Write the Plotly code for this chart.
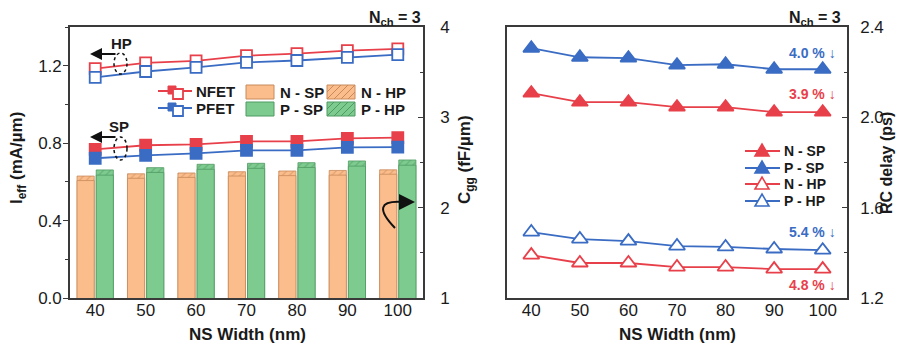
import plotly.graph_objects as go

# ---------------- data ----------------
ns_width = [40, 50, 60, 70, 80, 90, 100]

# Ieff (mA/um), left panel, left axis
ieff_n_hp = [1.185, 1.215, 1.225, 1.252, 1.262, 1.278, 1.287]
ieff_p_hp = [1.140, 1.170, 1.191, 1.217, 1.227, 1.243, 1.257]
ieff_n_sp = [0.768, 0.789, 0.794, 0.809, 0.809, 0.825, 0.829]
ieff_p_sp = [0.722, 0.737, 0.747, 0.763, 0.763, 0.778, 0.779]

# Cgg (fF/um), left panel, right axis
cgg_n_sp = [2.30, 2.325, 2.335, 2.35, 2.355, 2.36, 2.37]
cgg_n_hp = [2.35, 2.375, 2.384, 2.398, 2.406, 2.412, 2.419]
cgg_p_sp = [2.36, 2.39, 2.425, 2.435, 2.445, 2.46, 2.47]
cgg_p_hp = [2.418, 2.443, 2.48, 2.491, 2.498, 2.517, 2.528]

# RC delay (ps), right panel
rc_p_sp = [2.306, 2.266, 2.262, 2.231, 2.235, 2.213, 2.213]
rc_n_sp = [2.107, 2.067, 2.067, 2.045, 2.045, 2.023, 2.023]
rc_p_hp = [1.492, 1.461, 1.452, 1.430, 1.426, 1.417, 1.412]
rc_n_hp = [1.390, 1.355, 1.355, 1.337, 1.337, 1.328, 1.328]

ieff_ticks = [0.0, 0.4, 0.8, 1.2]
cgg_ticks = [1, 2, 3, 4]
rc_ticks = [1.2, 1.6, 2.0, 2.4]
pct_labels = ["4.0 % ↓", "3.9 % ↓", "5.4 % ↓", "4.8 % ↓"]
rc_legend = ["N - SP", "P - SP", "N - HP", "P - HP"]

# ---------------- style ----------------
OFF = 8                      # page body margin
W, H = 906 - OFF, 348 - OFF
FONT = "Liberation Sans, Arial, sans-serif"
RED = "#e8404a"
BLUE = "#3a6cc4"
ORANGE = "#fbbd8c"
ORANGE_D = "#c98a5a"
GREEN = "#7ecb90"
GREEN_D = "#4f9a62"
AX = "#3a3a3a"
TXT = "#1a1a1a"


def PX(x):
    return (x - OFF) / W


def PY(y):
    return 1 - (y - OFF) / H


fig = go.Figure()

# ---- bars (Cgg) on primary y (drawn first, right side axis) ----
BW = 3.4
fig.add_trace(go.Bar(x=ns_width, y=cgg_n_hp, width=BW, offset=-3.6, xaxis="x", yaxis="y",
                     marker=dict(color=ORANGE, line=dict(color=ORANGE_D, width=0.8),
                                 pattern=dict(shape="/", fgcolor=ORANGE_D, bgcolor=ORANGE,
                                              size=5, solidity=0.25, fillmode="overlay")),
                     showlegend=False))
fig.add_trace(go.Bar(x=ns_width, y=cgg_n_sp, width=BW, offset=-3.6, xaxis="x", yaxis="y",
                     marker=dict(color=ORANGE, line=dict(color=ORANGE_D, width=0.8)),
                     showlegend=False))
fig.add_trace(go.Bar(x=ns_width, y=cgg_p_hp, width=BW, offset=0.2, xaxis="x", yaxis="y",
                     marker=dict(color=GREEN, line=dict(color=GREEN_D, width=0.8),
                                 pattern=dict(shape="/", fgcolor=GREEN_D, bgcolor=GREEN,
                                              size=5, solidity=0.25, fillmode="overlay")),
                     showlegend=False))
fig.add_trace(go.Bar(x=ns_width, y=cgg_p_sp, width=BW, offset=0.2, xaxis="x", yaxis="y",
                     marker=dict(color=GREEN, line=dict(color=GREEN_D, width=0.8)),
                     showlegend=False))


def line_trace(y, color, filled, xa, ya, size=11, symbol="square"):
    return go.Scatter(
        x=ns_width, y=y, mode="lines+markers", xaxis=xa, yaxis=ya, showlegend=False,
        line=dict(color=color, width=1.8),
        marker=dict(symbol=symbol, size=size,
                    color=color if filled else "white",
                    line=dict(color=color, width=1.8)),
    )

# ---- Ieff lines on y2 (left side) ----
fig.add_trace(line_trace(ieff_n_hp, RED, False, "x", "y2"))
fig.add_trace(line_trace(ieff_p_hp, BLUE, False, "x", "y2"))
fig.add_trace(line_trace(ieff_n_sp, RED, True, "x", "y2"))
fig.add_trace(line_trace(ieff_p_sp, BLUE, True, "x", "y2"))

# ---- RC delay (right panel) ----
fig.add_trace(line_trace(rc_n_sp, RED, True, "x2", "y3", size=14, symbol="triangle-up"))
fig.add_trace(line_trace(rc_p_sp, BLUE, True, "x2", "y3", size=14, symbol="triangle-up"))
fig.add_trace(line_trace(rc_n_hp, RED, False, "x2", "y3", size=14, symbol="triangle-up"))
fig.add_trace(line_trace(rc_p_hp, BLUE, False, "x2", "y3", size=14, symbol="triangle-up"))

tickfont = dict(family=FONT, size=17, color=TXT)
common_x = dict(range=[35, 105], tickvals=ns_width, showline=True, linecolor=AX, linewidth=1.6,
                mirror=True, ticks="", showgrid=False, zeroline=False, tickfont=tickfont,
                automargin=False, ticklabelstandoff=-4)

fig.update_layout(
    width=W, height=H,
    margin=dict(l=0, r=0, t=0, b=0),
    paper_bgcolor="white", plot_bgcolor="white",
    barmode="overlay", showlegend=False,
    font=dict(family=FONT, color=TXT),
    xaxis=dict(domain=[PX(70), PX(423)], anchor="y", **common_x),
    yaxis=dict(domain=[PY(298), PY(27)], anchor="x", side="right", range=[1, 4],
               tickvals=cgg_ticks, ticks="inside", ticklen=5, tickcolor=AX,
               minor=dict(dtick=0.5, ticks="inside", ticklen=3, tickcolor=AX),
               showline=True, linecolor=AX, linewidth=1.6, showgrid=False, zeroline=False,
               tickfont=tickfont, automargin=False, ticklabelstandoff=12),
    yaxis2=dict(overlaying="y", anchor="x", side="left", range=[0, 1.4],
                tickvals=ieff_ticks, tickformat=".1f", ticks="outside", ticklen=5, tickcolor=AX,
                minor=dict(dtick=0.2, ticks="outside", ticklen=3, tickcolor=AX),
                showline=True, linecolor=AX, linewidth=1.6, showgrid=False, zeroline=False,
                tickfont=tickfont, automargin=False, ticklabelstandoff=-2),
    xaxis2=dict(domain=[PX(507), PX(847)], anchor="y3", **common_x),
    yaxis3=dict(domain=[PY(298), PY(27)], anchor="x2", side="right", range=[1.2, 2.4],
                tickvals=rc_ticks, tickformat=".1f", ticks="inside", ticklen=5, tickcolor=AX,
                minor=dict(dtick=0.2, ticks="inside", ticklen=3, tickcolor=AX),
                showline=True, linecolor=AX, linewidth=1.6, mirror=True, showgrid=False,
                zeroline=False, tickfont=tickfont, automargin=False, ticklabelstandoff=8),
)

ann = []
shapes = []


def text(x, y, s, size=17, color=TXT, angle=0, xanchor="center", bold=True):
    ann.append(dict(x=PX(x), y=PY(y), xref="paper", yref="paper", text=f"<b>{s}</b>" if bold else s,
                    showarrow=False, textangle=angle, xanchor=xanchor, yanchor="middle",
                    font=dict(family=FONT, size=size, color=color)))


def pline(x0, y0, x1, y1, color, width=1.8, dash=None):
    shapes.append(dict(type="line", xref="paper", yref="paper", x0=PX(x0), y0=PY(y0),
                       x1=PX(x1), y1=PY(y1), line=dict(color=color, width=width, dash=dash)))


# axis titles
text(247, 334, "NS Width (nm)")
text(677, 334, "NS Width (nm)")
text(18, 158, "I<sub>eff</sub> (mA/µm)", angle=-90)
text(466, 160, "C<sub>gg</sub> (fF/µm)", angle=-90)
text(887, 163, "RC delay (ps)", size=16, angle=-90)
text(395, 18, "N<sub>ch</sub> = 3", size=16)
text(815, 19, "N<sub>ch</sub> = 3", size=16)

# percentage labels
text(838, 53, pct_labels[0], size=14, color=BLUE, xanchor="right")
text(838, 94, pct_labels[1], size=14, color=RED, xanchor="right")
text(838, 232, pct_labels[2], size=14, color=BLUE, xanchor="right")
text(838, 285, pct_labels[3], size=14, color=RED, xanchor="right")

# HP / SP labels with arrows and dashed ellipses
text(121, 44, "HP", size=15)
text(119, 127, "SP", size=15)
for yy in (54, 137):
    ann.append(dict(x=PX(90), y=PY(yy), xref="paper", yref="paper", ax=27, ay=0, text="",
                    showarrow=True, arrowhead=2, arrowsize=1.2, arrowwidth=2, arrowcolor="#111"))
shapes.append(dict(type="circle", xref="paper", yref="paper", x0=PX(114), x1=PX(127), y0=PY(74), y1=PY(53),
                   line=dict(color="#111", width=1.5, dash="dot")))
shapes.append(dict(type="circle", xref="paper", yref="paper", x0=PX(114), x1=PX(127), y0=PY(160), y1=PY(137),
                   line=dict(color="#111", width=1.5, dash="dot")))

# curved arrow towards right axis
p0 = (PX(395), PY(228)); c = (PX(368), PY(200)); p1 = (PX(402), PY(202))
shapes.append(dict(type="path", xref="paper", yref="paper",
                   path=f"M {p0[0]},{p0[1]} Q {c[0]},{c[1]} {p1[0]},{p1[1]}",
                   line=dict(color="#111", width=2)))
ann.append(dict(x=PX(415), y=PY(202), xref="paper", yref="paper", ax=-14, ay=0, text="",
                showarrow=True, arrowhead=2, arrowsize=1.6, arrowwidth=2, arrowcolor="#111"))


# ---- left panel legend (drawn) ----
def line_legend(y, color, label):
    pline(158, y, 192, y, color)
    shapes.append(dict(type="rect", xref="paper", yref="paper", x0=PX(168), x1=PX(176), y0=PY(y + 3), y1=PY(y - 5),
                       fillcolor=color, line=dict(color=color, width=1)))
    shapes.append(dict(type="rect", xref="paper", yref="paper", x0=PX(173), x1=PX(183), y0=PY(y + 8), y1=PY(y - 2),
                       fillcolor="white", line=dict(color=color, width=1.8)))
    text(194, y, label, size=15, xanchor="left")


line_legend(91, RED, "NFET")
line_legend(108, BLUE, "PFET")


def box_legend(x0, y0, x1, y1, fill, edge, hatch):
    shapes.append(dict(type="rect", xref="paper", yref="paper", x0=PX(x0), x1=PX(x1), y0=PY(y1), y1=PY(y0),
                       fillcolor=fill, line=dict(color=edge, width=1)))
    if hatch:
        step = 7
        cval = x0 + y0 + step
        while cval < x1 + y1:
            pts = []
            for yy in (y0, y1):
                xx = cval - yy
                if x0 <= xx <= x1:
                    pts.append((xx, yy))
            for xx in (x0, x1):
                yy = cval - xx
                if y0 <= yy <= y1:
                    pts.append((xx, yy))
            pts = sorted(set(pts))
            if len(pts) >= 2:
                (ax_, ay_), (bx_, by_) = pts[0], pts[-1]
                pline(ax_, ay_, bx_, by_, edge, width=1)
            cval += step


box_legend(246, 85, 274, 99, ORANGE, ORANGE_D, False)
box_legend(246, 102, 274, 116, GREEN, GREEN_D, False)
box_legend(327, 85, 355, 99, ORANGE, ORANGE_D, True)
box_legend(327, 102, 355, 116, GREEN, GREEN_D, True)
text(278, 92, "N - SP", size=15, xanchor="left")
text(278, 109, "P - SP", size=15, xanchor="left")
text(359, 92, "N - HP", size=15, xanchor="left")
text(359, 109, "P - HP", size=15, xanchor="left")


# ---- right panel legend (drawn) ----
def tri_legend(y, color, filled, label):
    pline(745, y, 780, y, color)
    cx = 762
    path = (f"M {PX(cx - 7)},{PY(y + 5)} L {PX(cx + 7)},{PY(y + 5)} "
            f"L {PX(cx)},{PY(y - 7)} Z")
    shapes.append(dict(type="path", xref="paper", yref="paper", path=path,
                       fillcolor=color if filled else "white", line=dict(color=color, width=1.6)))
    text(782, y, label, size=14, xanchor="left")


tri_legend(151, RED, True, rc_legend[0])
tri_legend(168, BLUE, True, rc_legend[1])
tri_legend(184, RED, False, rc_legend[2])
tri_legend(201, BLUE, False, rc_legend[3])

fig.update_layout(annotations=ann, shapes=shapes)
fig.write_html("out.html")
